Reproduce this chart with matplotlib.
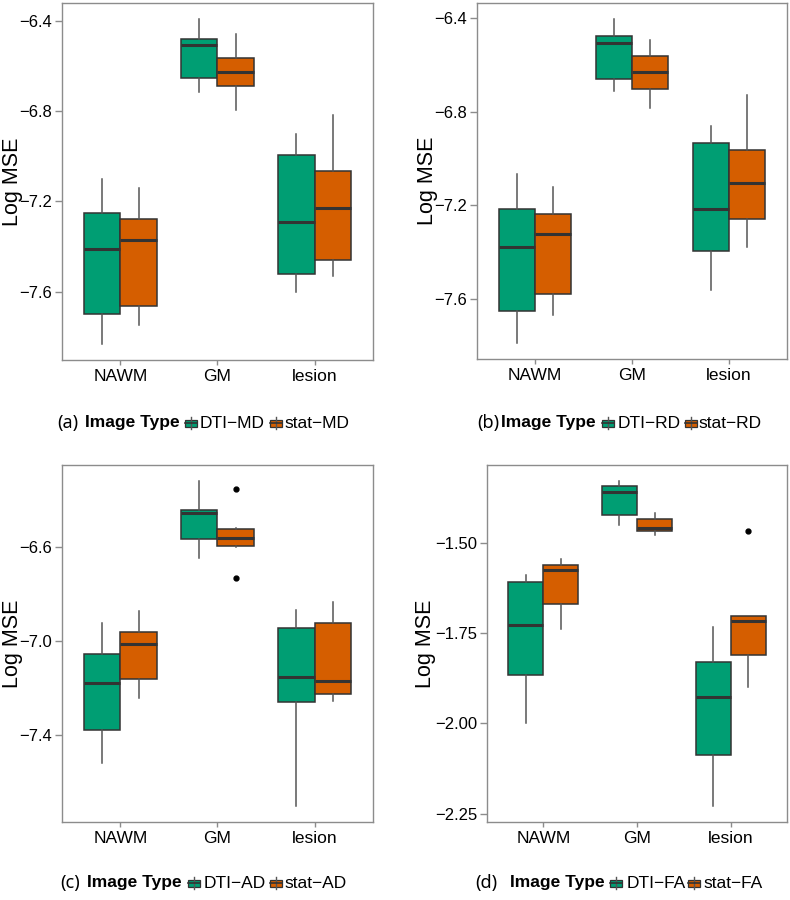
import numpy as np
import matplotlib.pyplot as plt
from matplotlib.patches import Rectangle
from matplotlib.lines import Line2D
from matplotlib.ticker import FuncFormatter

plt.rcParams['font.family'] = ['Liberation Sans', 'DejaVu Sans']

regions = ['NAWM', 'GM', 'lesion']

# each row: whisker low, Q1, median, Q3, whisker high  (NAWM, GM, lesion)
md_dti = [[-7.831, -7.698, -7.409, -7.253, -7.102],
          [-6.714, -6.652, -6.505, -6.480, -6.392],
          [-7.603, -7.521, -7.289, -6.996, -6.902]]
md_stat = [[-7.747, -7.665, -7.369, -7.276, -7.142],
           [-6.793, -6.687, -6.625, -6.564, -6.458],
           [-7.529, -7.458, -7.227, -7.064, -6.815]]

rd_dti = [[-7.787, -7.652, -7.377, -7.216, -7.065],
          [-6.714, -6.663, -6.509, -6.478, -6.406],
          [-7.561, -7.395, -7.217, -6.934, -6.863]]
rd_stat = [[-7.667, -7.578, -7.323, -7.237, -7.122],
           [-6.787, -6.703, -6.633, -6.565, -6.494],
           [-7.378, -7.260, -7.106, -6.964, -6.728]]

ad_dti = [[-7.517, -7.377, -7.177, -7.055, -6.922],
          [-6.647, -6.567, -6.457, -6.442, -6.322],
          [-7.698, -7.256, -7.150, -6.945, -6.867]]
ad_stat = [[-7.243, -7.161, -7.014, -6.962, -6.871],
           [-6.600, -6.597, -6.562, -6.524, -6.520],
           [-7.253, -7.225, -7.168, -6.924, -6.833]]
ad_stat_out = [[], [-6.354, -6.733], []]

fa_dti = [[-1.999, -1.866, -1.728, -1.609, -1.589],
          [-1.452, -1.423, -1.361, -1.344, -1.330],
          [-2.228, -2.087, -1.926, -1.830, -1.733]]
fa_stat = [[-1.738, -1.669, -1.577, -1.561, -1.545],
           [-1.478, -1.467, -1.459, -1.435, -1.419],
           [-1.899, -1.811, -1.718, -1.704, -1.704]]
fa_stat_out = [[], [], [-1.469]]

no_out = [[], [], []]

green = '#009E73'
orange = '#D55E00'
edge = '#333333'
frame = '#8c8c8c'

W, H = 790, 900
fig = plt.figure(figsize=(7.9, 9), dpi=100)


def px_axes(left, top, right, bottom):
    return fig.add_axes([left / W, 1 - bottom / H, (right - left) / W, (bottom - top) / H])


def minus_fmt(decimals):
    return FuncFormatter(lambda v, p: f'{v:.{decimals}f}'.replace('-', '\u2212'))


def draw_panel(ax, dti, stat, dti_out, stat_out, yticks, decimals, label_off):
    pos = np.arange(1, len(regions) + 1)
    lows, highs = [], []
    for vals, outs, shift, col in [(dti, dti_out, -0.1875, green), (stat, stat_out, 0.1875, orange)]:
        stats = []
        for v, o in zip(vals, outs):
            stats.append(dict(whislo=v[0], q1=v[1], med=v[2], q3=v[3], whishi=v[4], fliers=o))
            lows.append(min([v[0]] + o))
            highs.append(max([v[4]] + o))
        ax.bxp(stats, positions=pos + shift, widths=0.375, patch_artist=True,
               showcaps=False, manage_ticks=False,
               boxprops=dict(facecolor=col, edgecolor=edge, linewidth=1.1),
               medianprops=dict(color=edge, linewidth=2.2),
               whiskerprops=dict(color='#555555', linewidth=1.1),
               flierprops=dict(marker='o', markerfacecolor='black',
                               markeredgecolor='black', markersize=3.5))
    lo, hi = min(lows), max(highs)
    pad = (hi - lo) * 0.05
    ax.set_ylim(lo - pad, hi + pad)
    ax.set_xlim(0.4, 3.6)
    ax.set_xticks(pos, regions, fontsize=12.5, color='black')
    ax.set_yticks(yticks)
    ax.yaxis.set_major_formatter(minus_fmt(decimals))
    ax.tick_params(axis='y', labelsize=12, colors=frame, labelcolor='black', length=5, width=1, pad=2)
    ax.tick_params(axis='x', colors=frame, labelcolor='black', length=3.5, width=1, pad=3)
    for s in ax.spines.values():
        s.set_color(frame)
        s.set_linewidth(1)
    ax.set_ylabel('Log MSE', fontsize=15.5, va='center')
    width_px = ax.get_position().width * W
    ax.yaxis.set_label_coords(-label_off / width_px, 0.5)


def key(xl, yc, col):
    # boxplot legend key in pixel coords
    t = fig.transFigure
    fig.add_artist(Line2D([(xl + 6) / W] * 2, [1 - (yc - 6) / H, 1 - (yc + 6) / H],
                          transform=t, color='#555555', lw=1))
    fig.add_artist(Rectangle((xl / W, 1 - (yc + 3.5) / H), 12 / W, 7 / H, transform=t,
                             facecolor=col, edgecolor=edge, lw=0.9))
    fig.add_artist(Line2D([xl / W, (xl + 12) / W], [1 - yc / H] * 2,
                          transform=t, color=edge, lw=1.2))


def caption(letter, xs, yc, labels):
    fig.text(xs[0] / W, 1 - yc / H, f'({letter})', family=['Noto Sans', 'DejaVu Sans'],
             fontsize=13, ha='left', va='center')
    fig.text(xs[1] / W, 1 - yc / H, 'Image Type', fontsize=12.5, weight='bold',
             ha='left', va='center')
    key(xs[2], yc, green)
    fig.text(xs[3] / W, 1 - yc / H, labels[0], fontsize=12.5, ha='left', va='center')
    key(xs[4], yc, orange)
    fig.text(xs[5] / W, 1 - yc / H, labels[1], fontsize=12.5, ha='left', va='center')


ax_a = px_axes(62, 3, 373, 360)
draw_panel(ax_a, md_dti, md_stat, no_out, no_out, [-7.6, -7.2, -6.8, -6.4], 1, 50)
caption('a', [57, 85, 185, 200, 270, 284], 423, ['DTI\u2212MD', 'stat\u2212MD'])

ax_b = px_axes(477, 3, 787, 359)
draw_panel(ax_b, rd_dti, rd_stat, no_out, no_out, [-7.6, -7.2, -6.8, -6.4], 1, 50)
caption('b', [477, 501, 602, 618, 685, 698], 423, ['DTI\u2212RD', 'stat\u2212RD'])

ax_c = px_axes(62, 465, 373, 822)
draw_panel(ax_c, ad_dti, ad_stat, no_out, ad_stat_out, [-7.4, -7.0, -6.6], 1, 50)
caption('c', [60, 87, 188, 204, 270, 284], 883, ['DTI\u2212AD', 'stat\u2212AD'])

ax_d = px_axes(487, 465, 787, 822)
draw_panel(ax_d, fa_dti, fa_stat, no_out, fa_stat_out, [-2.25, -2.0, -1.75, -1.5], 2, 61)
caption('d', [475, 510, 610, 627, 688, 703], 883, ['DTI\u2212FA', 'stat\u2212FA'])

fig.savefig('out.png', dpi=100)
